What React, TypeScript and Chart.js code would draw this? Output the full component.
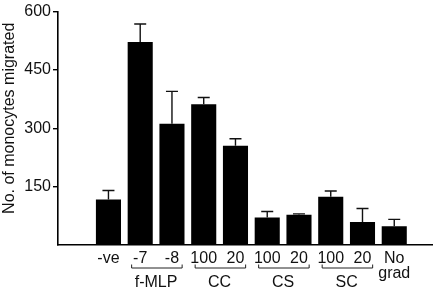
import React, { useEffect, useRef } from "react";
import { Chart, registerables } from "chart.js";

Chart.register(...registerables);

const categories: (string | string[])[] = ["-ve", "-7", "-8", "100", "20", "100", "20", "100", "20", ["No", "grad"]];
const means = [117, 522, 312, 362, 255, 71, 78, 124, 59, 48];
const errors = [23, 46, 83, 17, 18, 15, 2, 15, 35, 18];
const yTicks = [150, 300, 450, 600];
const groups = [
  { label: "f-MLP", from: 1, to: 2 },
  { label: "CC", from: 3, to: 4 },
  { label: "CS", from: 5, to: 6 },
  { label: "SC", from: 7, to: 8 },
];
const yTitle = "No. of monocytes migrated";

const FONT = "'Liberation Sans', Arial, Helvetica, sans-serif";

export default function App() {
  const ref = useRef<HTMLCanvasElement | null>(null);

  useEffect(() => {
    if (!ref.current) return;

    const errorBars = {
      id: "errorBars",
      afterDatasetsDraw(chart: any) {
        const { ctx, scales } = chart;
        const xs = scales.x;
        const ys = scales.y;
        ctx.save();
        ctx.strokeStyle = "#111";
        ctx.lineWidth = 1.4;
        means.forEach((m, i) => {
          const x = xs.getPixelForValue(i);
          const y0 = ys.getPixelForValue(m);
          const y1 = ys.getPixelForValue(m + errors[i]);
          ctx.beginPath();
          ctx.moveTo(x, y0);
          ctx.lineTo(x, y1);
          ctx.moveTo(x - 6, y1);
          ctx.lineTo(x + 6, y1);
          ctx.stroke();
        });
        ctx.restore();
      },
    };

    const extraText = {
      id: "extraText",
      afterDraw(chart: any) {
        const { ctx, scales, chartArea } = chart;
        const xs = scales.x;
        const yB = chartArea.bottom + 23;
        ctx.save();
        ctx.strokeStyle = "#222";
        ctx.lineWidth = 1;
        ctx.fillStyle = "#111";
        ctx.font = `16px ${FONT}`;
        ctx.textAlign = "center";
        ctx.textBaseline = "middle";
        groups.forEach((g) => {
          const x0 = xs.getPixelForValue(g.from - 0.27);
          const x1 = xs.getPixelForValue(g.to + 0.32);
          ctx.beginPath();
          ctx.moveTo(x0, yB - 3.5);
          ctx.lineTo(x0, yB);
          ctx.lineTo(x1, yB);
          ctx.lineTo(x1, yB - 3.5);
          ctx.stroke();
          const xm = xs.getPixelForValue((g.from + g.to) / 2);
          ctx.fillText(g.label, xm, chartArea.bottom + 38);
        });
        // y-axis title
        ctx.translate(10, (chartArea.top + chartArea.bottom) / 2 - 10);
        ctx.rotate(-Math.PI / 2);
        ctx.fillText(yTitle, 0, 0);
        ctx.restore();
      },
    };

    const chart = new Chart(ref.current, {
      type: "bar",
      data: {
        datasets: [
          {
            data: means.map((v, i) => ({ x: i, y: v })),
            backgroundColor: "#000",
            borderWidth: 0,
            barPercentage: 0.79,
            categoryPercentage: 1,
          },
        ],
      },
      options: {
        responsive: false,
        animation: false,
        devicePixelRatio: 1,
        layout: { padding: { top: 10, right: 4, left: 0, bottom: 0 } },
        plugins: {
          legend: { display: false },
          tooltip: { enabled: false },
        },
        scales: {
          x: {
            type: "linear",
            min: -1,
            max: 9.6,
            afterBuildTicks: (scale: any) => {
              scale.ticks = categories.map((_, i) => ({ value: i }));
            },
            afterFit: (scale: any) => {
              scale.height = 47;
            },
            ticks: {
              autoSkip: false,
              maxRotation: 0,
              padding: 6,
              color: "#111",
              font: { family: FONT, size: 16, lineHeight: 0.95 },
              callback: (v: any) => categories[v as number] ?? "",
            },
            grid: { display: true, drawOnChartArea: false, drawTicks: false },
            border: { display: true, color: "#000", width: 1.6 },
          },
          y: {
            type: "linear",
            min: 0,
            max: 600,
            afterBuildTicks: (scale: any) => {
              scale.ticks = [0, ...yTicks].map((v) => ({ value: v }));
            },
            afterFit: (scale: any) => {
              scale.width = 58;
            },
            ticks: {
              padding: 2,
              color: "#111",
              font: { family: FONT, size: 16 },
              callback: (v: any) => (v === 0 ? "" : String(v)),
            },
            grid: {
              drawOnChartArea: false,
              drawTicks: true,
              tickLength: 5,
              lineWidth: 1.4,
              color: (c: any) => (c.tick && c.tick.value === 0 ? "rgba(0,0,0,0)" : "#000"),
            },
            border: { display: true, color: "#000", width: 1.6 },
          },
        },
      },
      plugins: [errorBars, extraText],
    } as any);

    return () => chart.destroy();
  }, []);

  return (
    <div style={{ position: "fixed", left: 0, top: 0, width: 436, height: 292, background: "#fff" }}>
      <canvas ref={ref} width={436} height={292} style={{ width: 436, height: 292 }} />
    </div>
  );
}
